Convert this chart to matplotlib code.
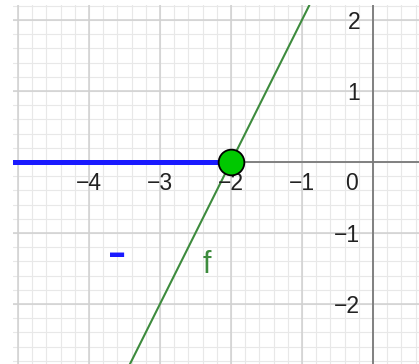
import numpy as np
import matplotlib.pyplot as plt

# f(x) = 2x + 4, drawn as a line through two points
line_x = [-3.6, -0.9]
line_y = [2 * x + 4 for x in line_x]

# blue ray on the x axis ending at the root
ray_x = [-5.2, -2]
ray_y = [0, 0]

root_x = [-2]
root_y = [0]

x_ticks = [-4, -3, -2, -1]
y_ticks = [-2, -1, 1, 2]

green = '#3d8b3d'
blue = '#1a1aff'

fig = plt.figure(figsize=(4.19, 3.64), dpi=100)
ax = fig.add_axes([13 / 419, 0, 406 / 419, 359 / 364])
ax.set_xlim(-5.07, 0.648)
ax.set_ylim(-2.845, 2.21)

# grid: minor every 0.2, major every 1
for v in np.arange(-5, 0.7, 0.2):
    ax.axvline(v, color='#e8e8e8', lw=0.8, zorder=0)
for v in np.arange(-2.8, 2.3, 0.2):
    ax.axhline(v, color='#e8e8e8', lw=0.8, zorder=0)
for v in range(-5, 1):
    ax.axvline(v, color='#d0d0d0', lw=1.1, zorder=0)
for v in range(-2, 3):
    ax.axhline(v, color='#d0d0d0', lw=1.1, zorder=0)

ax.axhline(0, color='#7a7a7a', lw=1.3, zorder=1)
ax.axvline(0, color='#7a7a7a', lw=1.3, zorder=1)

ax.plot(line_x, line_y, color=green, lw=1.5, zorder=2)
ax.plot(ray_x, ray_y, color=blue, lw=3.6, solid_capstyle='butt', zorder=3)
ax.plot(root_x, root_y, 'o', ms=18.5, mfc='#00c800', mec='black', mew=1.3, zorder=4)

for t in x_ticks:
    ax.text(t, -0.3, '−%d' % -t, ha='center', va='center', fontsize=16.5,
            family='Liberation Sans', color='#222222')
ax.text(-0.3, -0.3, '0', ha='center', va='center', fontsize=16.5,
        family='Liberation Sans', color='#222222')
for t in y_ticks:
    lab = str(t) if t > 0 else '−%d' % -t
    ax.text(-0.18, t - 0.04, lab, ha='right', va='center', fontsize=16.5,
            family='Liberation Sans', color='#222222')

ax.text(-2.34, -1.45, 'f', ha='center', va='center', fontsize=22,
        family='Liberation Sans', color=green)
ax.text(-3.6, -1.31, '–', ha='center', va='center', fontsize=26,
        fontweight='bold', color=blue)

ax.set_xticks([])
ax.set_yticks([])
for s in ax.spines.values():
    s.set_visible(False)

fig.savefig('out.png', dpi=100)
